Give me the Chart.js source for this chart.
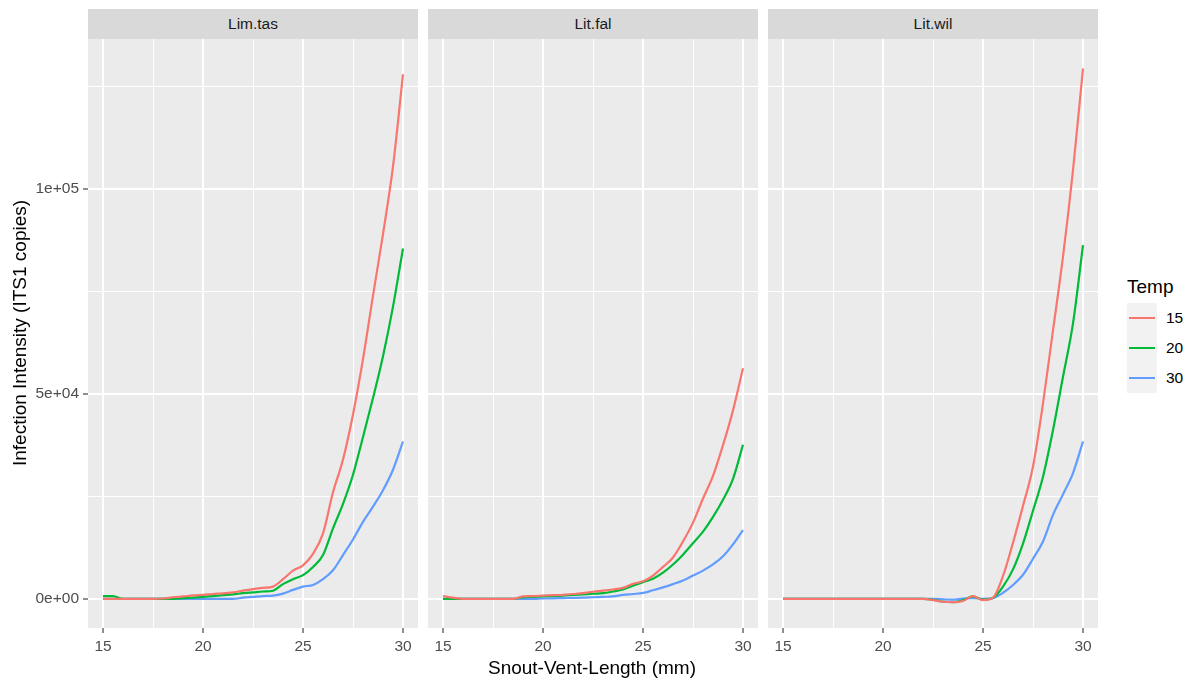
<!DOCTYPE html>
<html>
<head>
<meta charset="utf-8">
<script src="https://cdn.jsdelivr.net/npm/chart.js@4.4.1/dist/chart.umd.min.js"></script>
<style>
  body { margin: 0; background: #fff; font-family: "Liberation Sans", Arial, sans-serif; }
  #page { position: relative; width: 1190px; height: 681px; overflow: hidden; }
  canvas { position: absolute; top: 25px; }
  .strip { position: absolute; top: 9px; width: 330px; height: 30px; background: #D9D9D9;
           color: #1A1A1A; font-size: 15.5px; line-height: 30px; text-align: center; }
  #ytitle { position: absolute; left: -280px; top: 322px; width: 600px; height: 22px; line-height: 22px;
            font-size: 19px; text-align: center; transform: rotate(-90deg); color: #000; }
  #xtitle { position: absolute; left: 392px; top: 658px; width: 400px; line-height: 19px;
            font-size: 19px; text-align: center; color: #000; }
  #legendTitle { position: absolute; left: 1127px; top: 277px; font-size: 19px; line-height: 19px; color: #000; }
  #legendKeys { position: absolute; left: 1127px; top: 303px; width: 30px; height: 90px; background: #F2F2F2; }
  .key { position: absolute; left: 2px; width: 26px; height: 2.2px; }
  .keyLabel { position: absolute; left: 1166px; font-size: 15.5px; line-height: 18px; color: #000; }
</style>
</head>
<body>
<div id="page">
  <div class="strip" style="left:88px">Lim.tas</div>
  <div class="strip" style="left:428px">Lit.fal</div>
  <div class="strip" style="left:768px">Lit.wil</div>
  <canvas id="c1" width="388" height="643" style="left:30px"></canvas>
  <canvas id="c2" width="330" height="643" style="left:428px"></canvas>
  <canvas id="c3" width="330" height="643" style="left:768px"></canvas>
  <div id="ytitle">Infection Intensity (ITS1 copies)</div>
  <div id="xtitle">Snout-Vent-Length (mm)</div>
  <div id="legendTitle">Temp</div>
  <div id="legendKeys"></div>
</div>
<script>
// snout-vent length (mm)
var svl = [15, 15.5, 16, 16.5, 17, 17.5, 18, 18.5, 19, 19.5, 20, 20.5, 21, 21.5, 22, 22.5,
           23, 23.5, 24, 24.5, 25, 25.5, 26, 26.5, 27, 27.5, 28, 28.5, 29, 29.5, 30];

var species = ['Lim.tas', 'Lit.fal', 'Lit.wil'];
var temps = ['15', '20', '30'];
var tempColors = ['#F8766D', '#00BA38', '#619CFF'];

var xTicks = [15, 20, 25, 30];
var yTicks = [0, 50000, 100000];

// infection intensity (ITS1 copies)
var limTas15 = [0, 0, 0, 0, 0, 0, 100, 400, 600, 850, 1000, 1200, 1350, 1600, 2000, 2400,
                2700, 3000, 4800, 6900, 8200, 11000, 16000, 26000, 34000, 45000, 58500, 74000, 89000, 105500, 128000];
var limTas20 = [700, 700, 0, 0, 0, 0, 0, 0, 200, 300, 500, 700, 900, 1100, 1400, 1600,
                1800, 2000, 3600, 4800, 5800, 7800, 10700, 17200, 23200, 30300, 39500, 49000, 59200, 71300, 85500];
var limTas30 = [0, 0, 0, 0, 0, 0, 0, 0, 0, 0, 0, 0, 0, 0, 300, 500,
                700, 800, 1300, 2200, 3000, 3400, 4800, 7000, 10700, 14500, 18800, 22500, 26500, 31500, 38400];

var litFal15 = [700, 300, 0, 0, 0, 0, 0, 0, 600, 700, 800, 900, 1000, 1200, 1400, 1750,
                2000, 2300, 2700, 3700, 4300, 5700, 7800, 10100, 14000, 18600, 24500, 30000, 37500, 46000, 56300];
var litFal20 = [0, 0, 0, 0, 0, 0, 0, 0, 400, 500, 600, 700, 800, 950, 1100, 1250,
                1400, 1800, 2300, 3200, 4100, 4900, 6400, 8400, 10800, 13600, 16400, 20000, 24200, 29300, 37600];
var litFal30 = [0, 0, 0, 0, 0, 0, 0, 0, 0, 0, 100, 150, 200, 250, 300, 400,
                500, 600, 1000, 1200, 1450, 2100, 2800, 3600, 4500, 5700, 6900, 8400, 10400, 13300, 16800];

var litWil15 = [0, 0, 0, 0, 0, 0, 0, 0, 0, 0, 0, 0, 0, 0, 0, -300,
                -700, -800, -500, 700, -300, 300, 5600, 13700, 22700, 32300, 47700, 65500, 83500, 104600, 129400];
var litWil20 = [0, 0, 0, 0, 0, 0, 0, 0, 0, 0, 0, 0, 0, 0, 0, -200,
                -700, -800, -300, 600, -200, 200, 3000, 7200, 13500, 21500, 29800, 41200, 54200, 67200, 86300];
var litWil30 = [0, 0, 0, 0, 0, 0, 0, 0, 0, 0, 0, 0, 0, 0, 0, 0,
                -100, -200, 100, 200, 0, 200, 1500, 3400, 5900, 9800, 14000, 20500, 25500, 30700, 38400];

var panelSeries = [
    [limTas15, limTas20, limTas30],
    [litFal15, litFal20, litFal30],
    [litWil15, litWil20, litWil30]
];

var tickFont = { family: '"Liberation Sans", Arial, sans-serif', size: 15.5 };

// grey panel background like ggplot
var panelBg = {
    id: 'panelBg',
    beforeDraw: function (chart) {
        var a = chart.chartArea;
        chart.ctx.save();
        chart.ctx.fillStyle = '#EBEBEB';
        chart.ctx.fillRect(a.left, a.top, a.right - a.left, a.bottom - a.top);
        chart.ctx.restore();
    }
};

function withMinor(major) {
    var out = [];
    for (var i = 0; i < major.length; i++) {
        out.push(major[i]);
        if (i < major.length - 1) out.push((major[i] + major[i + 1]) / 2);
    }
    return out;
}

function sci(v) {
    return v.toExponential().replace(/e([+-])(\d)$/, 'e$10$2');
}

function makePanel(canvasId, seriesList, showY) {
    var datasets = seriesList.map(function (ys, i) {
        return {
            label: temps[i],
            data: svl.map(function (x, j) { return { x: x, y: ys[j] }; }),
            borderColor: tempColors[i],
            borderWidth: 2.2,
            pointRadius: 0,
            cubicInterpolationMode: 'monotone',
            fill: false
        };
    });

    var xGrid = withMinor(xTicks);
    var yGrid = withMinor(yTicks.concat([150000])).filter(function (v) { return v < 136600; });

    new Chart(document.getElementById(canvasId), {
        type: 'line',
        data: { datasets: datasets },
        plugins: [panelBg],
        options: {
            responsive: false,
            animation: false,
            layout: { padding: { top: 14, left: 0, right: 0, bottom: 0 } },
            plugins: { legend: { display: false }, tooltip: { enabled: false } },
            scales: {
                x: {
                    type: 'linear',
                    min: 14.25,
                    max: 30.75,
                    afterBuildTicks: function (s) { s.ticks = xGrid.map(function (v) { return { value: v }; }); },
                    afterFit: function (s) { s.height = 40; },
                    border: { display: false },
                    grid: {
                        color: '#FFFFFF',
                        lineWidth: function (c) { return xTicks.indexOf(c.tick.value) >= 0 ? 2 : 1; },
                        tickColor: function (c) { return xTicks.indexOf(c.tick.value) >= 0 ? '#333333' : 'rgba(0,0,0,0)'; },
                        tickWidth: 1.1,
                        tickLength: 5
                    },
                    ticks: {
                        autoSkip: false,
                        maxRotation: 0,
                        padding: 4,
                        color: '#4D4D4D',
                        font: tickFont,
                        callback: function (v) { return xTicks.indexOf(v) >= 0 ? String(v) : ''; }
                    }
                },
                y: {
                    type: 'linear',
                    min: -7100,
                    max: 136600,
                    afterBuildTicks: function (s) { s.ticks = yGrid.map(function (v) { return { value: v }; }); },
                    afterFit: function (s) { s.width = showY ? 58 : 0; },
                    border: { display: false },
                    grid: {
                        color: '#FFFFFF',
                        lineWidth: function (c) { return yTicks.indexOf(c.tick.value) >= 0 ? 2 : 1; },
                        drawTicks: showY,
                        tickColor: function (c) { return yTicks.indexOf(c.tick.value) >= 0 ? '#333333' : 'rgba(0,0,0,0)'; },
                        tickWidth: 1.1,
                        tickLength: 5
                    },
                    ticks: {
                        display: showY,
                        autoSkip: false,
                        padding: 4,
                        color: '#4D4D4D',
                        font: tickFont,
                        callback: function (v) { return yTicks.indexOf(v) >= 0 ? sci(v) : ''; }
                    }
                }
            }
        }
    });
}

makePanel('c1', panelSeries[0], true);
makePanel('c2', panelSeries[1], false);
makePanel('c3', panelSeries[2], false);

// legend
var keys = document.getElementById('legendKeys');
temps.forEach(function (t, i) {
    var line = document.createElement('div');
    line.className = 'key';
    line.style.top = (14 + i * 30) + 'px';
    line.style.background = tempColors[i];
    keys.appendChild(line);

    var label = document.createElement('div');
    label.className = 'keyLabel';
    label.style.top = (303 + 6 + i * 30) + 'px';
    label.textContent = t;
    document.getElementById('page').appendChild(label);
});
</script>
</body>
</html>
